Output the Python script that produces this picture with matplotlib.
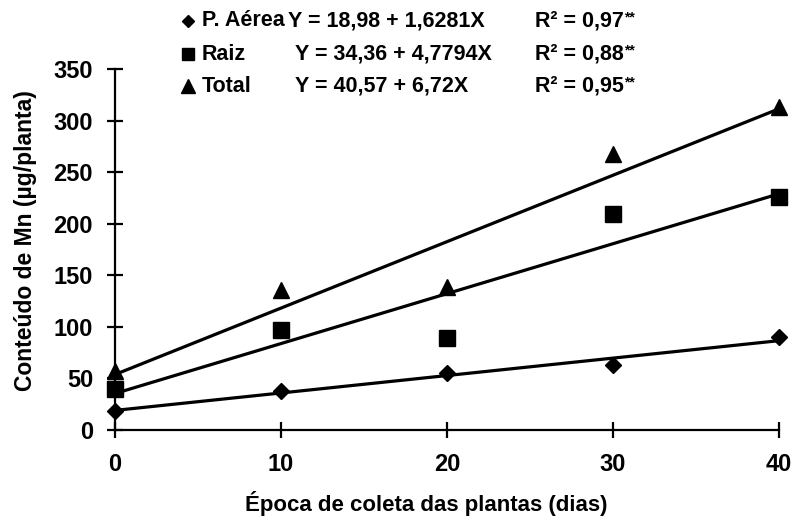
import matplotlib.pyplot as plt
from matplotlib.lines import Line2D
import numpy as np

plt.rcParams['font.family'] = ['Liberation Sans', 'DejaVu Sans']
plt.rcParams['font.weight'] = 'bold'

W, H = 796, 524

# data
dias = [0, 10, 20, 30, 40]
p_aerea = [18, 38, 55, 63, 90]
raiz = [40, 97, 89, 209, 226]
total = [57, 136, 139, 268, 313]

names = ["P. Aérea", "Raiz", "Total"]
eq_text = ["Y = 18,98 + 1,6281X", "Y = 34,36 + 4,7794X", "Y = 40,57 + 6,72X"]
r2_text = ["R² = 0,97", "R² = 0,88", "R² = 0,95"]
markers = ["D", "s", "^"]
msizes = [8.5, 11, 11.5]
leg_msizes = [6.5, 9, 10]

fig = plt.figure(figsize=(W / 100, H / 100), dpi=100)
ax = fig.add_axes([115 / W, 1 - 430 / H, 664 / W, 361 / H])

xs = np.array([0, 40])
for vals, m, ms in zip([p_aerea, raiz, total], markers, msizes):
    ax.plot(dias, vals, linestyle="none", marker=m, color="black", markersize=ms,
            clip_on=False, zorder=3)
    b, a = np.polyfit(dias, vals, 1)
    ax.plot(xs, a + b * xs, color="black", linewidth=2.3, clip_on=False)

ax.set_xlim(0, 40)
ax.set_ylim(0, 350)
ax.set_xticks(dias)
ax.set_yticks(range(0, 351, 50))
for s in ["top", "right"]:
    ax.spines[s].set_visible(False)
for s in ["left", "bottom"]:
    ax.spines[s].set_linewidth(1.6)
ax.tick_params(axis="both", direction="inout", length=11.5, width=1.6, labelsize=17)
ax.tick_params(axis="y", pad=10)
ax.tick_params(axis="x", pad=11)

fig.text(426 / W, 1 - 503 / H, "Época de coleta das plantas (dias)", fontsize=16,
         ha="center", va="center")
fig.text(26 / W, 1 - 241 / H, "Conteúdo de Mn (µg/planta)", fontsize=16.5,
         rotation=90, ha="center", va="center")

# legend with equations
rows_y = [1 - 21 / H, 1 - 54 / H, 1 - 86 / H]
eq_x = [288 / W, 295 / W, 295 / W]
for i in range(3):
    fig.add_artist(Line2D([188 / W], [rows_y[i]], marker=markers[i], color="black",
                          markersize=leg_msizes[i], transform=fig.transFigure))
    fig.text(202 / W, rows_y[i], names[i], fontsize=15.5, va="center", ha="left")
    fig.text(eq_x[i], rows_y[i], eq_text[i], fontsize=15.5, va="center", ha="left")
    t = fig.text(535 / W, rows_y[i], r2_text[i], fontsize=15.5, va="center", ha="left")
    fig.canvas.draw()
    bb = t.get_window_extent()
    fig.text(bb.x1 / W, rows_y[i] + 0.006, "**", fontsize=10, va="center", ha="left")

fig.savefig("out.png", dpi=100)
